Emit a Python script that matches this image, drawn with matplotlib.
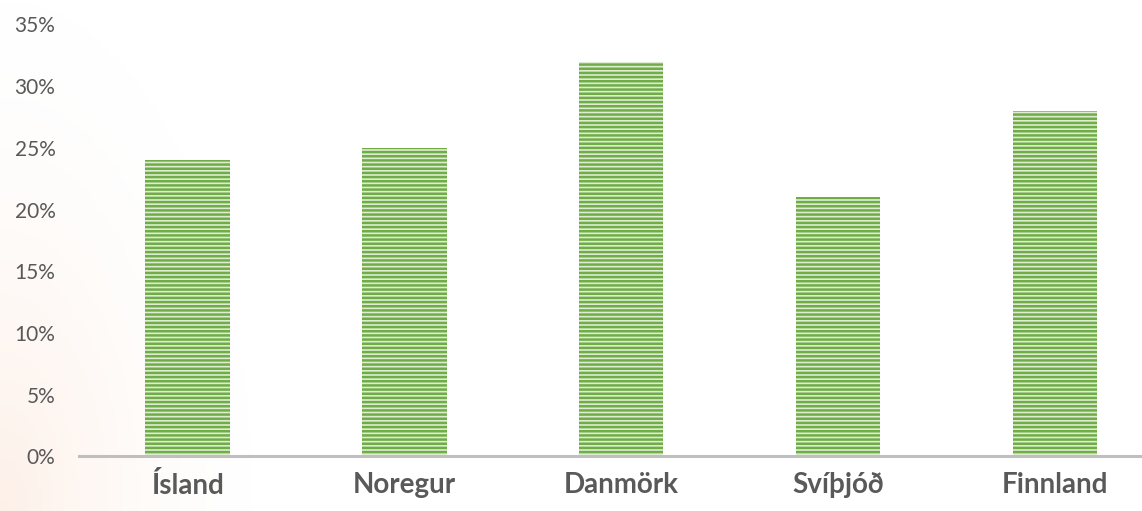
import numpy as np
import matplotlib.pyplot as plt

# Hlutfall eftir löndum
countries = ['Ísland', 'Noregur', 'Danmörk', 'Svíþjóð', 'Finnland']
values = [24, 25, 32, 21, 28]
yticks = [0, 5, 10, 15, 20, 25, 30, 35]
ytick_labels = [str(t) + '%' for t in yticks]

plt.rcParams['font.family'] = ['Lato', 'DejaVu Sans']
plt.rcParams['hatch.linewidth'] = 1.8

fig = plt.figure(figsize=(11.42, 5.11), dpi=100)

# faint peach glow at the lower left of the background
bg = fig.add_axes([0, 0, 1, 1], zorder=-10)
gx, gy = np.meshgrid(np.linspace(0, 1, 300), np.linspace(0, 1, 150))
d = np.sqrt((gx / 0.22) ** 2 + (gy / 1.0) ** 2)
a = np.clip(1 - d, 0, 1) ** 1.6 * 0.5
peach = np.array([252, 226, 210]) / 255.0
img = np.ones((150, 300, 3)) * (1 - a[..., None]) + peach * a[..., None]
bg.imshow(img, origin='lower', extent=[0, 1, 0, 1], aspect='auto')
bg.axis('off')

ax = fig.add_axes([0.0692, 0.1067, 0.9494, 0.8454])
ax.patch.set_alpha(0)
x = np.arange(len(countries))
ax.bar(x, values, width=0.39, color='#DCEDD2', edgecolor='#70AD47',
       linewidth=0, hatch='----', zorder=2)

ax.set_xlim(-0.5, len(countries) - 0.5)
ax.set_ylim(0, 35)
ax.set_yticks(yticks)
ax.set_yticklabels(ytick_labels)
ax.set_xticks(x)
ax.set_xticklabels(countries, fontweight='bold', fontsize=20, color='#595959')
ax.tick_params(axis='y', length=0, labelsize=15, labelcolor='#595959', pad=17)
ax.tick_params(axis='x', length=0, pad=11)

for s in ['top', 'right', 'left']:
    ax.spines[s].set_visible(False)
ax.spines['bottom'].set_color('#BFBFBF')
ax.spines['bottom'].set_linewidth(2.2)

fig.savefig('out.png', dpi=100)
